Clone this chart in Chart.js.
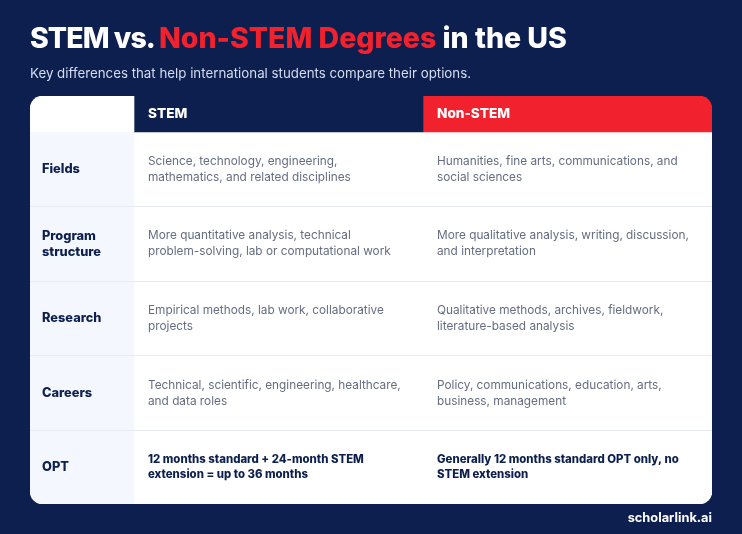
<!DOCTYPE html>
<html>
<head>
<meta charset="utf-8">
<title>STEM vs. Non-STEM Degrees in the US</title>
<script src="https://cdn.jsdelivr.net/npm/chart.js@4"></script>
<style>
  html, body { margin: 0; padding: 0; background: #0c1f4e; }
  #wrap { position: relative; width: 742px; height: 534px; overflow: hidden; font-family: Inter, sans-serif; }
  #tabla { position: absolute; left: 0; top: 0; }
  h1 { position: absolute; left: 30px; top: 18px; margin: 0; font-size: 28.5px; line-height: 40px; font-weight: 800; color: #fff; white-space: nowrap; letter-spacing: 0; }
  h1 .a { letter-spacing: -0.95px; }
  h1 .b { color: #f2212e; }
  p { position: absolute; left: 30px; top: 65px; margin: 0; font-size: 13.3px; line-height: 16px; color: #d5dcf0; white-space: nowrap; }
  #marca { position: absolute; right: 30px; top: 510px; font-size: 12.8px; line-height: 16px; font-weight: 700; color: #fff; }
</style>
</head>
<body>
<div id="wrap">
  <canvas id="tabla" width="742" height="534"></canvas>
  <h1><span class="a">STEM vs. </span><span class="b">Non-STEM Degrees</span> in the US</h1>
  <p>Key differences that help international students compare their options.</p>
  <div id="marca">scholarlink.ai</div>
</div>
<script>
// Encabezados y filas de la tabla
const columnLabels = ['STEM', 'Non-STEM'];
const rowLabels = [['Fields'], ['Program', 'structure'], ['Research'], ['Careers'], ['OPT']];
const stemTexts = [
  ['Science, technology, engineering,', 'mathematics, and related disciplines'],
  ['More quantitative analysis, technical', 'problem-solving, lab or computational work'],
  ['Empirical methods, lab work, collaborative', 'projects'],
  ['Technical, scientific, engineering, healthcare,', 'and data roles'],
  ['12 months standard + 24-month STEM', 'extension = up to 36 months']
];
const nonStemTexts = [
  ['Humanities, fine arts, communications, and', 'social sciences'],
  ['More qualitative analysis, writing, discussion,', 'and interpretation'],
  ['Qualitative methods, archives, fieldwork,', 'literature-based analysis'],
  ['Policy, communications, education, arts,', 'business, management'],
  ['Generally 12 months standard OPT only, no', 'STEM extension']
];
// Bordes de columnas y filas, en unidades de las escalas
const columnEdges = [0, 104, 393, 682];
const rowEdges = [0, 36, 110.5, 185, 259.5, 334.5, 408];

const NAVY = '#0c1f4e';
const RED = '#f2212e';
const GREY = '#666d83';
const radius = 13;
const headerMid = (rowEdges[0] + rowEdges[1]) / 2;
const bodyMid = (rowEdges[1] + rowEdges[6]) / 2;
const headerHeight = rowEdges[1] - rowEdges[0];
const bodyHeight = rowEdges[6] - rowEdges[1];

function cell(col0, col1, mid, color, thickness, corners) {
  return {
    data: [{ x: [columnEdges[col0], columnEdges[col1]], y: mid }],
    backgroundColor: color,
    barThickness: thickness,
    stack: 'tabla',
    borderSkipped: false,
    borderRadius: corners
  };
}

// Texto de las celdas, colocado con las escalas del grafico
const cellText = {
  id: 'cellText',
  afterDatasetsDraw(chart) {
    const { ctx, scales: { x, y } } = chart;
    const put = (lines, col, mid, font, color, step) => {
      ctx.font = font;
      ctx.fillStyle = color;
      ctx.textBaseline = 'middle';
      const left = x.getPixelForValue(columnEdges[col]) + (col === 0 ? 12 : 14);
      const top = y.getPixelForValue(mid) - (lines.length - 1) * step / 2;
      lines.forEach((line, i) => ctx.fillText(line, left, top + i * step));
    };
    ctx.save();
    columnLabels.forEach((label, c) => put([label], c + 1, headerMid, '800 13.6px Inter', '#fff', 16));
    rowLabels.forEach((lines, r) => {
      const mid = (rowEdges[r + 1] + rowEdges[r + 2]) / 2;
      put(lines, 0, mid, '800 12.8px Inter', NAVY, 16);
      const bold = r === 4;
      const font = bold ? '800 11.4px Inter' : '400 11.8px Inter';
      const color = bold ? NAVY : GREY;
      put(stemTexts[r], 1, mid, font, color, bold ? 15 : 16);
      put(nonStemTexts[r], 2, mid, font, color, bold ? 15 : 16);
    });
    ctx.restore();
  }
};

new Chart(document.querySelector('#tabla'), {
  type: 'bar',
  data: {
    datasets: [
      cell(0, 1, headerMid, '#ffffff', headerHeight, { topLeft: radius }),
      cell(1, 2, headerMid, NAVY, headerHeight, 0),
      cell(2, 3, headerMid, RED, headerHeight, { topRight: radius }),
      cell(0, 1, bodyMid, '#f4f7fe', bodyHeight, { bottomLeft: radius }),
      cell(1, 3, bodyMid, '#ffffff', bodyHeight, { bottomRight: radius })
    ]
  },
  plugins: [cellText],
  options: {
    indexAxis: 'y',
    responsive: false,
    animation: false,
    layout: { padding: { left: 30, right: 30, top: 96, bottom: 30 } },
    plugins: { legend: { display: false }, tooltip: { enabled: false } },
    scales: {
      x: { type: 'linear', display: false, stacked: false, min: columnEdges[0], max: columnEdges[3] },
      y: {
        type: 'linear',
        reverse: true,
        offset: false,
        min: rowEdges[0],
        max: rowEdges[6],
        border: { display: false },
        ticks: { display: false },
        afterBuildTicks(axis) {
          axis.ticks = rowEdges.slice(2, 6).map(value => ({ value }));
        },
        grid: { color: '#e9ecf4', lineWidth: 1, offset: false, drawTicks: false, z: 1 }
      }
    }
  }
});
</script>
</body>
</html>
